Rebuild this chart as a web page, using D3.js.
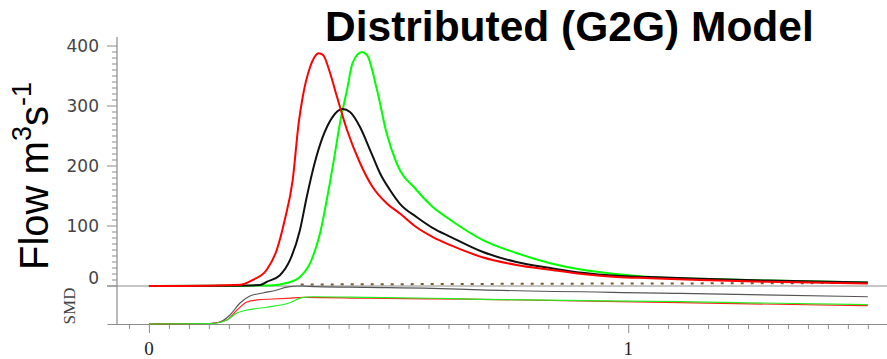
<!DOCTYPE html>
<html>
<head>
<meta charset="utf-8">
<script src="https://cdn.jsdelivr.net/npm/d3@7"></script>
<style>
  body { margin: 0; background: white; }
  svg { display: block; }
</style>
</head>
<body>
<div class="display"></div>
<script>
// flow hydrographs (time in hours from start, flow in m3/s)
const redTime = [0, 3, 4.6, 5.2, 5.9, 6.4, 6.8, 7.2, 7.5, 7.7, 8.07, 8.3, 8.5, 8.72, 9.07, 9.42, 9.92, 10.57, 11.2, 11.9, 12.6, 13.4, 14.2, 15.1, 16.7, 18.4, 20.1, 21.7, 23.4, 25.1, 27.6, 31, 36];
const redFlow = [0, 0.5, 2, 10, 27, 60, 110, 177, 272, 315, 365, 382, 388, 385, 355, 315, 260, 205, 165, 138, 120, 98, 82, 68, 48, 35, 27, 20, 15, 13, 10, 7, 4];

const blackTime = [0, 4, 5.56, 5.9, 6.56, 7.06, 7.56, 7.9, 8.3, 8.7, 9.2, 9.7, 10.07, 10.57, 11.07, 11.57, 12.07, 12.57, 13.4, 14.2, 15.1, 16.7, 18.4, 20.1, 21.7, 23.4, 25.1, 27.6, 31, 36];
const blackFlow = [0, 0.5, 1.5, 7, 18, 43, 93, 148, 205, 248, 282, 295, 290, 265, 227, 188, 160, 137, 115, 97, 82, 57, 40, 30, 22, 17, 15, 12, 9, 6];

const greenTime = [0, 4.5, 6.06, 6.9, 7.56, 8.07, 8.57, 8.97, 9.32, 9.57, 9.92, 10.2, 10.67, 10.92, 11.42, 11.9, 12.4, 13.4, 14.2, 15.1, 16.7, 18.4, 20.1, 21.7, 23.4, 25.1, 27.6, 31, 36];
const greenFlow = [0, 0.5, 1, 5, 15, 38, 88, 155, 222, 272, 327, 372, 390, 385, 327, 255, 205, 160, 132, 110, 77, 55, 38, 27, 20, 15, 12, 9, 6];

// dotted series near zero
const obsTime = [7.6, 12, 16, 20, 24, 28, 32, 36];
const obsFlow = [2.5, 3, 3.4, 3.8, 4.1, 4.4, 4.7, 5];

// soil moisture deficit (lower panel)
const blackSmdTime = [0, 3.06, 3.56, 4.06, 4.56, 5.06, 5.71, 6.41, 6.91, 7.57, 8.4, 10.9, 14.2, 16.6, 26.6, 36];
const blackSmd = [40, 39.5, 37.9, 30.5, 17.9, 10.5, 7.4, 4.2, 1.1, 0, 0.7, 1.4, 2.4, 4.0, 7.7, 11.3];

const redSmdTime = [0, 3.06, 3.91, 4.41, 4.91, 5.41, 6.21, 7.2, 7.9, 10.9, 14.2, 16.6, 26.6, 36];
const redSmd = [40, 39.5, 35.8, 25.3, 16.8, 14.7, 13.7, 12.6, 11.9, 12.9, 13.6, 14, 17.6, 20.7];

const greenSmdTime = [0, 3.2, 3.91, 4.41, 4.91, 5.91, 7.06, 7.72, 8.22, 10.9, 14.2, 16.6, 26.6, 36];
const greenSmd = [40, 39.5, 35.8, 28.4, 25.3, 22.4, 17.6, 11.9, 11.3, 11.9, 12.9, 14, 16.5, 19.7];

const flowTicks = [0, 100, 200, 300, 400];
const dayTicks = [0, 1];
const dayLabels = ['0', '1'];

const width = 887;
const height = 359;

const svg = d3.select('.display')
  .append('svg')
  .attr('width', width)
  .attr('height', height);

const xScale = d3.scaleLinear().domain([-0.0875, 1.54]).range([107, 887]);
const yScale = d3.scaleLinear().domain([0, 415]).range([286, 37]);
const smdScale = d3.scaleLinear().domain([0, 40]).range([286, 324]);

const axisColor = '#8c8c8c';

// y axis (flow)
const minorFlow = d3.range(0, 410, 10);
const yAxis = svg.append('g').attr('transform', 'translate(117,0)');
yAxis.append('line')
  .attr('x1', 0).attr('x2', 0)
  .attr('y1', yScale(415)).attr('y2', smdScale(40))
  .attr('stroke', axisColor).attr('stroke-width', 1.2);
yAxis.selectAll('.minor')
  .data(minorFlow)
  .enter()
  .append('line')
  .attr('x1', d => flowTicks.includes(d) ? -10 : -5)
  .attr('x2', 0)
  .attr('y1', d => yScale(d)).attr('y2', d => yScale(d))
  .attr('stroke', axisColor).attr('stroke-width', 1);
yAxis.selectAll('text')
  .data(flowTicks)
  .enter()
  .append('text')
  .attr('x', -18)
  .attr('y', d => yScale(d) + (d === 0 ? -8 : 0))
  .attr('dy', '0.36em')
  .attr('text-anchor', 'end')
  .attr('font-family', 'DejaVu Sans')
  .attr('font-size', 17)
  .attr('fill', '#444')
  .text(d => d);

// zero line between panels
svg.append('line')
  .attr('x1', 107).attr('x2', 887)
  .attr('y1', yScale(0)).attr('y2', yScale(0))
  .attr('stroke', axisColor).attr('stroke-width', 1.2);

// x axis at bottom, one tick per hour
const hourTicks = d3.range(-1, 37).map(h => h / 24);
const xAxis = d3.axisBottom(xScale)
  .tickValues(hourTicks)
  .tickSize(5)
  .tickSizeOuter(0)
  .tickFormat('');
const xg = svg.append('g')
  .attr('transform', `translate(0, ${smdScale(40)})`)
  .call(xAxis);
xg.select('.domain').attr('stroke', axisColor).attr('stroke-width', 1.2);
xg.selectAll('.tick line')
  .attr('stroke', axisColor)
  .attr('y2', d => dayTicks.some(t => Math.abs(t - d) < 1e-9) ? 9 : 5);

svg.selectAll('.xlabel')
  .data(dayTicks)
  .enter()
  .append('text')
  .attr('x', d => xScale(d))
  .attr('y', 355)
  .attr('text-anchor', 'middle')
  .attr('font-family', 'Liberation Serif')
  .attr('font-size', 19)
  .attr('fill', '#222')
  .text((d, i) => dayLabels[i]);

// flow lines
const flowLine = d3.line()
  .x(d => xScale(d[0] / 24))
  .y(d => yScale(d[1]))
  .curve(d3.curveMonotoneX);

const smdLine = d3.line()
  .x(d => xScale(d[0] / 24))
  .y(d => smdScale(d[1]))
  .curve(d3.curveMonotoneX);

const zip = (a, b) => a.map((v, i) => [v, b[i]]);

svg.append('path')
  .attr('d', flowLine(zip(obsTime, obsFlow)))
  .attr('fill', 'none')
  .attr('stroke', '#7a5a30')
  .attr('stroke-width', 2)
  .attr('stroke-dasharray', '3,7');

const smdSeries = [
  { t: blackSmdTime, v: blackSmd, color: '#555' },
  { t: redSmdTime, v: redSmd, color: '#ff2020' },
  { t: greenSmdTime, v: greenSmd, color: '#22ee22' }
];
smdSeries.forEach(s => {
  svg.append('path')
    .attr('d', smdLine(zip(s.t, s.v)))
    .attr('fill', 'none')
    .attr('stroke', s.color)
    .attr('stroke-width', 1.2);
});

const flowSeries = [
  { t: greenTime, v: greenFlow, color: '#00ff00' },
  { t: blackTime, v: blackFlow, color: '#111' },
  { t: redTime, v: redFlow, color: '#ff0000' }
];
flowSeries.forEach(s => {
  svg.append('path')
    .attr('d', flowLine(zip(s.t, s.v)))
    .attr('fill', 'none')
    .attr('stroke', s.color)
    .attr('stroke-width', 2);
});

// labels
svg.append('text')
  .attr('x', 325)
  .attr('y', 41)
  .attr('font-family', 'Liberation Sans')
  .attr('font-weight', 'bold')
  .attr('font-size', 42.5)
  .attr('fill', '#000')
  .text('Distributed (G2G) Model');

const ylab = svg.append('text')
  .attr('transform', 'translate(48,270) rotate(-90)')
  .attr('font-family', 'Liberation Sans')
  .attr('font-size', 40)
  .attr('fill', '#000');
ylab.append('tspan').text('Flow m');
ylab.append('tspan').attr('font-size', 27).attr('dy', -17).text('3');
ylab.append('tspan').attr('dy', 17).text('s');
ylab.append('tspan').attr('font-size', 27).attr('dy', -17).text('-1');

svg.append('text')
  .attr('transform', 'translate(75,306) rotate(-90)')
  .attr('text-anchor', 'middle')
  .attr('font-family', 'Liberation Serif')
  .attr('font-size', 17)
  .attr('fill', '#444')
  .text('SMD');
</script>
</body>
</html>
